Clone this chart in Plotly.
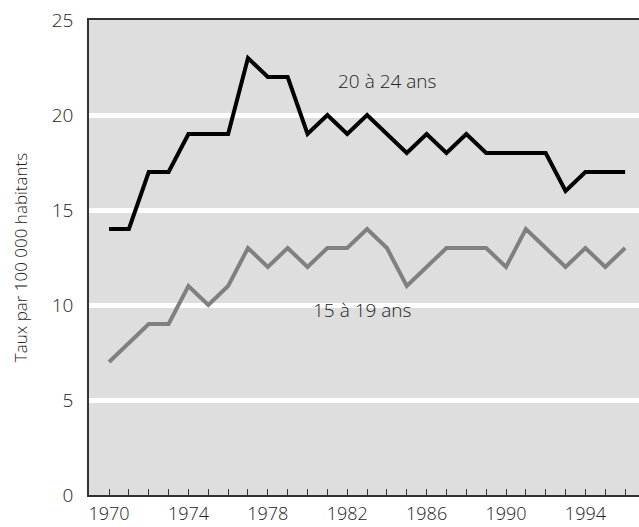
import plotly.graph_objects as go

years = list(range(1970, 1997))
age_20_24 = [14, 14, 17, 17, 19, 19, 19, 23, 22, 22, 19, 20, 19, 20, 19, 18, 19, 18, 19, 18, 18, 18, 18, 16, 17, 17, 17]
age_15_19 = [7, 8, 9, 9, 11, 10, 11, 13, 12, 13, 12, 13, 13, 14, 13, 11, 12, 13, 13, 13, 12, 14, 13, 12, 13, 12, 13]
x_tick_vals = [1970, 1974, 1978, 1982, 1986, 1990, 1994]
y_tick_vals = [0, 5, 10, 15, 20, 25]

FONT = "Open Sans"
TXT = "#222222"
W = 300

fig = go.Figure()
fig.add_trace(go.Scatter(x=years, y=age_15_19, mode="lines",
                         line=dict(color="#808080", width=4), showlegend=False))
fig.add_trace(go.Scatter(x=years, y=age_20_24, mode="lines",
                         line=dict(color="#000000", width=4), showlegend=False))

fig.add_annotation(x=1984, y=21.8, text="20 à 24 ans", showarrow=False,
                   font=dict(family=FONT, size=19, color=TXT, weight=W))
fig.add_annotation(x=1982.75, y=9.75, text="15 à 19 ans", showarrow=False,
                   font=dict(family=FONT, size=19, color=TXT, weight=W))

fig.update_layout(
    width=639, height=527,
    margin=dict(l=89, r=0, t=20, b=32, autoexpand=False),
    paper_bgcolor="white",
    plot_bgcolor="#dedede",
    font=dict(family=FONT, color=TXT, weight=W),
    xaxis=dict(
        range=[1968.99, 1996.7],
        automargin=False,
        tickmode="array", tickvals=x_tick_vals,
        ticks="inside", ticklen=6, tickcolor="#333", tickwidth=1,
        minor=dict(ticks="inside", ticklen=6, tickcolor="#333", tickwidth=1,
                   tick0=1970, dtick=1),
        showgrid=False, zeroline=False,
        showline=True, linecolor="#333", linewidth=1.5, mirror=True,
        tickfont=dict(family=FONT, size=18, color=TXT, weight=W),
        ticklabelstandoff=2,
    ),
    yaxis=dict(
        range=[0, 25],
        automargin=False,
        tickmode="array", tickvals=y_tick_vals,
        showgrid=True, gridcolor="white", gridwidth=5,
        zeroline=False,
        showline=True, linecolor="#333", linewidth=1.5,
        ticks="", tickfont=dict(family=FONT, size=19, color=TXT, weight=W),
        ticklabelstandoff=10,
        title=dict(text="Taux par 100 000 habitants",
                   font=dict(family=FONT, size=17, color=TXT, weight=W), standoff=20),
    ),
)

fig.write_html("out.html", config={"displayModeBar": False},
               post_script="document.body.style.margin='0';document.body.style.overflow='hidden';")
